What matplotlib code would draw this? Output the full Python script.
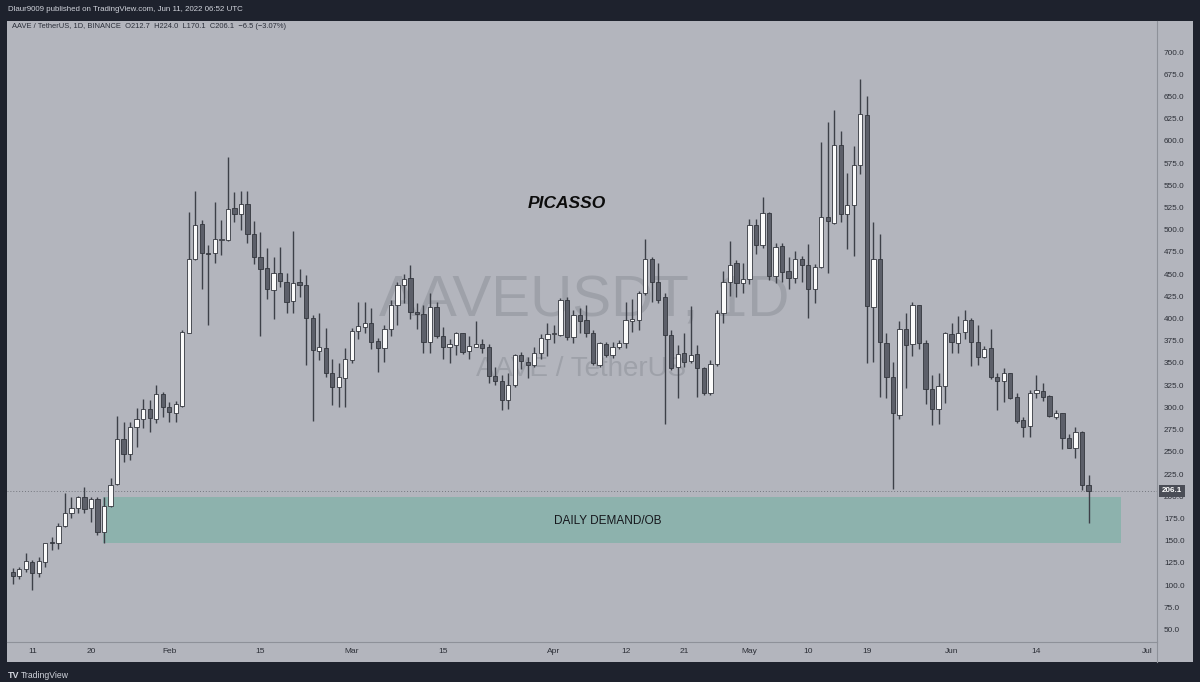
import matplotlib
matplotlib.use("Agg")
import matplotlib.pyplot as plt
import matplotlib.dates as mdates
from matplotlib.patches import Rectangle
from matplotlib.lines import Line2D
import numpy as np
import pandas as pd

plt.rcParams['font.family'] = ['Liberation Sans', 'DejaVu Sans']

W, H = 1200, 682

# AAVE/USDT diario, 8 ene 2021 -> 22 jun 2021
opens = [115, 110, 117.8, 126.3, 114, 126.3, 148, 147.7, 166.5, 181.5,
         186.4, 199.5, 186.4, 196.9, 160, 189, 213.6, 264.1, 247.6, 278.3,
         286.6, 297.9, 286.6, 315.1, 300.1, 294, 301.6, 384.1, 466.7, 506.4,
         474.1, 473.4, 488.4, 488.4, 524, 517.7, 528.9, 494.8, 468.9, 456.5,
         432.1, 451.7, 441.5, 419.7, 440.8, 437.8, 400.3, 363.8, 366.5, 339.1,
         322.6, 332.7, 353.3, 386, 390.1, 395.4, 374.7, 366.5, 388.2, 415.2,
         437.8, 445.3, 407.7, 405.1, 374, 413.3, 380.4, 367.6, 370.2, 383.4,
         363.5, 368.3, 371, 367.6, 335.7, 330.1, 308.3, 325.2, 359, 351.4,
         347.7, 360.9, 377, 382.6, 381.5, 420.9, 379.6, 404, 398.4, 384.1,
         347.7, 371.4, 359, 367.6, 372.1, 397.6, 398.4, 429.1, 466.7, 441.5,
         424.6, 381.5, 345.1, 360.9, 352.6, 359.8, 344.7, 316.6, 348.5, 405.9,
         441.5, 462.2, 439.7, 444.5, 505.3, 482.8, 519.2, 447.9, 482, 453.5,
         445.3, 467, 460.3, 433, 457.7, 514.7, 507.9, 595.3, 517.7, 527.8,
         572.8, 629.1, 413.3, 467, 372.8, 334.5, 291.4, 387.9, 370.9, 415.2,
         372.8, 320.4, 297.9, 324.1, 382.6, 372.8, 385.2, 398.4, 374, 356.4,
         366.5, 334.5, 330.1, 339.1, 311.4, 285.8, 279.1, 315.8, 318.8, 312.8,
         289.5, 294, 265.2, 253.9, 272.7, 212.7]
highs = [119, 120.7, 136.5, 128.2, 132, 147.7, 154.5, 169.5, 203.3, 198.8,
         200.3, 210, 199.5, 198.8, 199.5, 220.2, 290.3, 283.9, 283.9, 299,
         309.1, 308.3, 325.2, 317.7, 306.4, 307.6, 387.1, 520.3, 543.9, 510.9,
         482.8, 531.5, 510.9, 582.2, 542.8, 543.9, 543.9, 510.1, 497.8, 479.1,
         469.6, 480.9, 451.7, 498.9, 455.5, 449, 404, 406.6, 389, 354.1,
         349.6, 366.5, 389, 419, 419, 411.5, 377.8, 392.7, 420.9, 441.5,
         450.1, 460.3, 417.2, 415.2, 429.1, 419, 390.1, 376.7, 385.2, 384.1,
         380.4, 397.6, 376.7, 371, 345.8, 336.5, 338.4, 360.1, 362.7, 357.1,
         367.6, 382.6, 394.6, 392.7, 422.8, 424.6, 409.6, 411.5, 415.2, 387.1,
         374, 374, 374, 375.9, 419, 421.7, 431, 489.5, 469.6, 462.2,
         428.4, 387.1, 370.2, 384.1, 414.1, 370.2, 345.8, 353.3, 409.6, 453.9,
         487.3, 465.9, 462.2, 511.7, 511.7, 536.5, 520.3, 484.7, 484.7, 469.6,
         476.4, 470.4, 483.9, 461.4, 599.1, 621.6, 634.7, 611.4, 563.5, 594.2,
         669.6, 650.5, 509, 495.2, 383.4, 351.4, 397.6, 405.9, 419, 415.2,
         375.9, 336.5, 339.1, 385.2, 394.6, 402.9, 409.6, 400.3, 392.7, 369.1,
         387.9, 338.4, 344, 339.1, 315.8, 289.5, 319.6, 336.5, 327.1, 313.9,
         297.1, 294, 270.1, 277.6, 273.8, 224]
lows = [101, 106.5, 115, 94.5, 109.5, 120.7, 139.5, 140.6, 165.7, 175.2,
        180.8, 180.8, 171.3, 156.4, 147, 188.2, 212.7, 238.9, 240.8, 255.8,
        276.5, 272.6, 282.1, 289.5, 283.9, 283.9, 300.1, 383.4, 465.9, 432.9,
        392.7, 462.9, 471.5, 487.6, 509, 499.7, 485.4, 461.4, 380.4, 421.7,
        399.2, 435.2, 405.9, 406.6, 424.6, 347.7, 285, 353.3, 334.5, 302.7,
        300.8, 300.8, 350.3, 376.7, 384.1, 365.7, 340.2, 351.4, 380.4, 392.7,
        418, 399.2, 387.9, 361.6, 360.9, 377.8, 354.1, 350.3, 359, 360.1,
        354.1, 367.6, 361.6, 327.8, 325.2, 297.1, 297.9, 323.3, 342.9, 333.4,
        345.1, 354.1, 357.8, 372.1, 380.4, 375.9, 372.1, 384.1, 379.6, 347.7,
        345.1, 357.1, 355.3, 365.4, 366.5, 385.2, 387.1, 426.5, 419, 417.8,
        281.3, 342.1, 310.2, 345.8, 349.6, 312, 313.9, 313.9, 346.6, 395.4,
        425.4, 423.9, 429.1, 438.9, 472.6, 479, 443.4, 439.7, 441.5, 432.9,
        439.7, 441.5, 400.3, 417.8, 456.5, 450.9, 506.4, 509, 477.9, 470.4,
        562.4, 350.3, 351.4, 311.4, 310.2, 207.8, 286.6, 321.5, 357.8, 365.4,
        303.8, 280.2, 281.3, 304.6, 361.6, 361.6, 376.7, 346.6, 347.7, 355.3,
        331.6, 297.1, 306.4, 309.1, 282.1, 266.3, 267, 310.2, 307.6, 288.8,
        286.6, 252.8, 253.9, 242.7, 207, 170.1]
closes = [110, 117.8, 127.1, 114, 127.5, 147, 147, 166.8, 181.5, 186.4,
          199.5, 185.3, 196.9, 160, 189, 212.7, 264.1, 247.6, 277.6, 286.6,
          297.9, 287.7, 315.1, 300.1, 295.2, 303.8, 385.2, 466.7, 505.3, 474.1,
          472.6, 489.2, 489.5, 523.3, 517.3, 528.9, 495.2, 468.9, 455.4, 432.9,
          451, 442.3, 419, 440.4, 437.8, 400.3, 364.6, 367.6, 338.4, 323.3,
          333.9, 354.5, 386.3, 391.6, 395.4, 373.3, 366.5, 388.2, 415.2, 437.8,
          444.2, 407.7, 405.1, 374, 413.3, 380.7, 367.6, 371, 383.4, 362.7,
          369.1, 371, 367.2, 335.3, 330.1, 308.3, 325.2, 359, 352.2, 347.7,
          360.9, 377.8, 382.6, 383.4, 420.9, 379.6, 404, 397.6, 383.4, 349.6,
          372.1, 359, 367.6, 372.1, 398.4, 399.5, 429.1, 466.7, 441.5, 420.9,
          381.5, 344, 360.1, 351.4, 359, 344, 315.8, 348.5, 405.9, 441.5,
          460.3, 439.7, 444.5, 505.3, 482.8, 518.5, 447.9, 480.9, 452.7, 445.3,
          467, 460.3, 433.3, 458.4, 514.7, 510.1, 595.3, 517.7, 527.8, 572.8,
          630.2, 414.1, 467, 374, 334.5, 293.3, 387.9, 370.2, 415.2, 372.1,
          320.4, 297.9, 324.1, 383.4, 374, 384.1, 398.4, 374, 356.4, 365.4,
          334.5, 329.7, 338.4, 310.2, 285, 278.3, 316.6, 319.6, 311.4, 290.3,
          294, 265.2, 253.9, 272.7, 212.7, 206.1]

fechas_ticks = ['2021-01-11', '2021-01-20', '2021-02-01', '2021-02-15', '2021-03-01',
                '2021-03-15', '2021-04-01', '2021-04-12', '2021-04-21', '2021-05-01',
                '2021-05-10', '2021-05-19', '2021-06-01', '2021-06-14', '2021-07-01']
etiquetas_ticks = ['11', '20', 'Feb', '15', 'Mar', '15', 'Apr', '12', '21', 'May',
                   '10', '19', 'Jun', '14', 'Jul']
precios_eje = np.arange(50, 701, 25)

ultimo = 206.1
zona_inicio = pd.Timestamp('2021-01-21 21:00')
zona_fin = pd.Timestamp('2021-06-26 23:00')
zona_baja = 147.4
zona_alta = 199.2

FONDO = '#b3b5bd'
OSCURO = '#1e222d'

dias = pd.date_range('2021-01-08', periods=len(opens), freq='D')
x = mdates.date2num(dias)
o = np.array(opens)
c = np.array(closes)
sube = c >= o

fig = plt.figure(figsize=(12, 6.82), dpi=100, facecolor=OSCURO)
fig.patches.append(Rectangle((7 / W, 1 - 662 / H), 1186 / W, 641 / H,
                             transform=fig.transFigure, facecolor=FONDO,
                             edgecolor='none', zorder=-5))

ax = fig.add_axes([7 / W, 1 - 642 / H, 1150 / W, 621 / H])
ax.set_facecolor(FONDO)
ax.set_zorder(2)

# marca de agua
ax.text(0.502, 0.549, 'AAVEUSDT, 1D', transform=ax.transAxes, ha='center', va='center',
        fontsize=42, color='#9ea1a9', zorder=1)
ax.text(0.499, 0.439, 'AAVE / TetherUS', transform=ax.transAxes, ha='center', va='center',
        fontsize=20, color='#9ea1a9', zorder=1)

# zona de demanda
ax.add_patch(Rectangle((mdates.date2num(zona_inicio), zona_baja),
                       mdates.date2num(zona_fin) - mdates.date2num(zona_inicio),
                       zona_alta - zona_baja, facecolor='#8db2ad', edgecolor='none', zorder=1.5))
ax.text(mdates.date2num(pd.Timestamp('2021-04-09 06:00')), 172.5, 'DAILY DEMAND/OB',
        ha='center', va='center', fontsize=8.5, color='#15171c', zorder=5)

ax.axhline(ultimo, color='#74777f', lw=0.7, ls=(0, (1, 2)), zorder=1.6)

# velas
ax.vlines(x, lows, highs, colors='#3d4048', linewidth=1.0, zorder=2)
alturas = np.maximum(np.abs(c - o), 0.9)
bases = np.minimum(o, c)
colores = np.where(sube, '#fbfbfb', '#5c5f69')
ax.bar(x, alturas, bottom=bases, width=0.66, color=colores, edgecolor='#33363d',
       linewidth=0.6, zorder=3)

ax.text(mdates.date2num(pd.Timestamp('2021-04-03')), 530, 'PICASSO', ha='center', va='center',
        fontsize=12.5, fontweight='bold', style='italic', color='#0c0c0c', zorder=5)

ax.set_xlim(mdates.date2num(dias[0]) - 0.88, mdates.date2num(dias[0]) + 175.5)
ax.set_ylim(35.95, 734.9)

ax.yaxis.tick_right()
ax.set_yticks(precios_eje)
ax.set_yticklabels(['%.1f' % v for v in precios_eje])
ax.set_xticks(mdates.date2num(pd.to_datetime(fechas_ticks)))
ax.set_xticklabels(etiquetas_ticks)
ax.tick_params(axis='y', length=0, pad=5, labelsize=5.9, labelcolor='#2c2f37')
ax.tick_params(axis='x', length=0, pad=4, labelsize=6, labelcolor='#2c2f37')
for lado in ['top', 'left']:
    ax.spines[lado].set_visible(False)
for lado in ['right', 'bottom']:
    ax.spines[lado].set_color('#8e9199')
    ax.spines[lado].set_linewidth(0.8)
fig.lines.append(Line2D([1157 / W, 1157 / W], [1 - 642 / H, 1 - 662 / H],
                        transform=fig.transFigure, color='#8e9199', lw=0.8))

ax.text(1.004, ultimo, '206.1', transform=ax.get_yaxis_transform(), ha='left', va='center',
        fontsize=5.8, color='white', fontweight='bold', zorder=10, clip_on=False,
        bbox=dict(boxstyle='square,pad=0.35', facecolor='#4a4d56', edgecolor='none'))

# textos de la captura
fig.text(8 / W, 1 - 9.5 / H, 'Dlaur9009 published on TradingView.com, Jun 11, 2022 06:52 UTC',
         color='#d1d4dc', fontsize=5.7, va='center')
fig.text(12 / W, 1 - 27 / H,
         'AAVE / TetherUS, 1D, BINANCE  O212.7  H224.0  L170.1  C206.1  \u22126.5 (\u22123.07%)',
         color='#2a2e39', fontsize=5.45, va='center', zorder=5)
fig.text(8 / W, 1 - 675.5 / H, 'TV', color='#d1d4dc', fontsize=6.5, fontweight='bold', va='center')
fig.text(21 / W, 1 - 675.5 / H, 'TradingView', color='#d1d4dc', fontsize=6.2, va='center')

fig.savefig('out.png', dpi=100, facecolor=fig.get_facecolor())
